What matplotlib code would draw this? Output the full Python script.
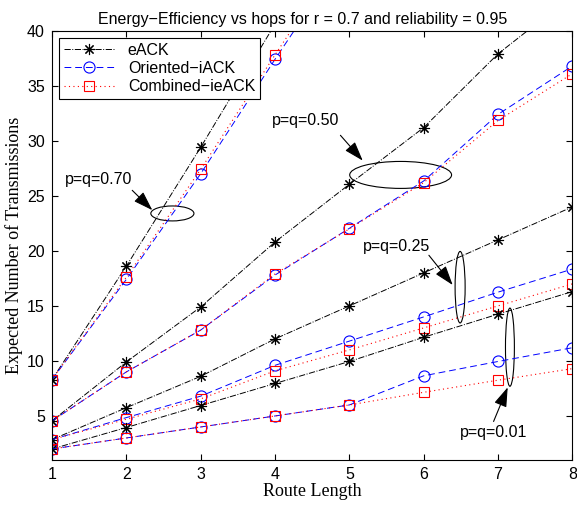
import matplotlib
matplotlib.use("Agg")
import matplotlib.pyplot as plt
import numpy as np
from matplotlib.patches import Ellipse

plt.rcParams['font.family'] = ['Liberation Sans', 'DejaVu Sans']

nan = np.nan
hops = [1, 2, 3, 4, 5, 6, 7, 8]
pq_levels = ["0.70", "0.50", "0.25", "0.01"]

# eACK, one row per p=q level (points off the top of the chart left out)
eack = [
    [8.3, 18.6, 29.4, 40.6, nan, nan, nan, nan],
    [4.55, 9.9, 14.9, 20.8, 26.05, 31.2, 37.9, 43.2],
    [2.85, 5.75, 8.6, 12.0, 15.0, 18.0, 21.0, 24.0],
    [2.0, 3.95, 5.95, 7.95, 9.95, 12.15, 14.25, 16.3],
]
# Oriented-iACK
iack = [
    [8.3, 17.4, 27.0, 37.4, 47.5, nan, nan, nan],
    [4.55, 9.0, 12.8, 17.8, 22.05, 26.35, 32.4, 36.8],
    [2.85, 4.85, 6.8, 9.6, 11.8, 14.0, 16.25, 18.35],
    [2.0, 3.0, 4.0, 5.0, 6.0, 8.65, 9.95, 11.2],
]
# Combined-ieACK
ieack = [
    [8.3, 17.6, 27.4, 37.8, 48.0, nan, nan, nan],
    [4.55, 9.0, 12.8, 17.9, 22.0, 26.2, 31.85, 36.1],
    [2.85, 4.7, 6.55, 9.1, 11.0, 13.0, 15.0, 17.0],
    [2.0, 3.0, 4.0, 5.0, 6.0, 7.15, 8.25, 9.3],
]

# annotations: ellipse centre / size in data units, text position, arrow tip
ell_center = [(2.62, 23.4), (5.69, 26.9), (6.49, 16.7), (7.16, 11.25)]
ell_size = [(0.58, 1.36), (1.37, 2.45), (0.135, 6.5), (0.12, 7.1)]
txt_pos = [(1.17, 26.5), (3.96, 31.8), (5.18, 20.4), (6.49, 3.5)]
arrow_from = [(2.08, 25.5), (4.88, 30.5), (6.07, 19.6), (6.94, 4.5)]
arrow_to = [(2.35, 23.7), (5.18, 28.2), (6.39, 16.9), (7.13, 7.6)]

fig = plt.figure(figsize=(5.77, 5.08), dpi=100)
ax = fig.add_axes([0.090, 0.0945, 0.902, 0.845])

for i in range(len(pq_levels)):
    ax.plot(hops, eack[i], color='black', ls='-.', lw=0.7, marker=(8, 2, 0),
            ms=8, mew=0.8, label='eACK' if i == 0 else None)
    ax.plot(hops, iack[i], color='blue', ls=(0, (7, 4)), lw=0.7, marker='o',
            ms=8, mfc='none', mew=0.8, label='Oriented\u2212iACK' if i == 0 else None)
    ax.plot(hops, ieack[i], color='red', ls=(0, (1, 3)), lw=0.8, marker='s',
            ms=7, mfc='none', mew=0.8, label='Combined\u2212ieACK' if i == 0 else None)

for i, lev in enumerate(pq_levels):
    ax.add_patch(Ellipse(ell_center[i], ell_size[i][0], ell_size[i][1],
                         fill=False, color='black', lw=0.8))
    ax.text(txt_pos[i][0], txt_pos[i][1], f"p=q={lev}", fontsize=11.5, va='center')
    ax.annotate("", xy=arrow_to[i], xytext=arrow_from[i],
                arrowprops=dict(arrowstyle='-|>,head_length=1.2,head_width=0.4',
                                color='black', lw=0.8, shrinkA=0, shrinkB=0))

ax.set_xlim(1, 8)
ax.set_ylim(1, 40)
ax.set_xticks(hops)
ax.set_yticks(np.arange(5, 41, 5))
ax.tick_params(direction='in', top=True, right=True, length=4, labelsize=11.5, pad=5)
for s in ax.spines.values():
    s.set_linewidth(0.8)

ax.set_xlabel("Route Length", family='Liberation Serif', fontsize=13, labelpad=1)
ax.set_ylabel("Expected Number of Transmissions", family='Liberation Serif',
              fontsize=13, labelpad=3)
ax.set_title("Energy\u2212Efficiency vs hops for r = 0.7 and reliability = 0.95",
             fontsize=11.5, pad=5, x=0.482)

leg = ax.legend(loc='upper left', fontsize=11.5, fancybox=False, framealpha=1,
                edgecolor='black', handlelength=3.2, borderaxespad=0.45,
                labelspacing=0.2, borderpad=0.3)
leg.get_frame().set_linewidth(0.8)

fig.savefig("out.png", dpi=100)
